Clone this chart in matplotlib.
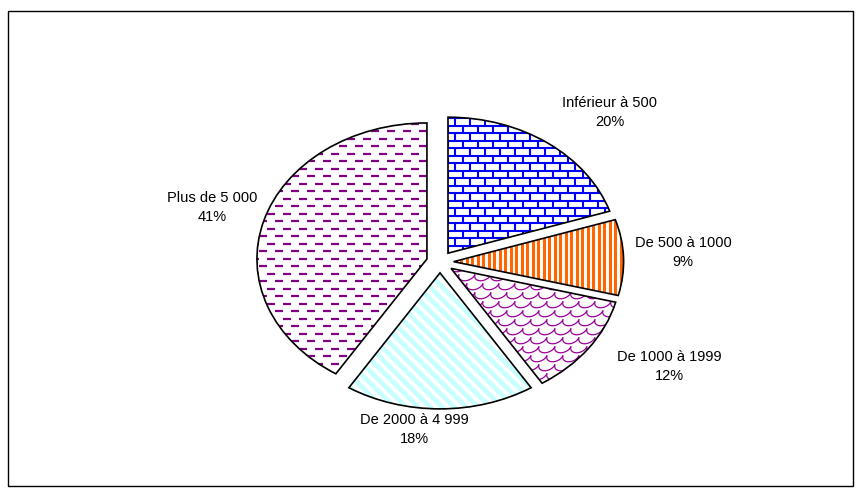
import numpy as np
import matplotlib
matplotlib.use("Agg")
import matplotlib.pyplot as plt
from matplotlib.patches import Wedge, Rectangle
from matplotlib.collections import LineCollection

plt.rcParams['font.family'] = ['Liberation Sans', 'DejaVu Sans']

# data
categories = ['Inférieur à 500', 'De 500 à 1000', 'De 1000 à 1999', 'De 2000 à 4 999', 'Plus de 5 000']
values = [20, 9, 12, 18, 41]

# label anchors (data units, relative to pie centre)
label_pos = [(1.0, 1.10), (1.43, 0.07), (1.35, -0.77), (-0.15, -1.23), (-1.34, 0.40)]

W, H = 861, 497
cx, cy = 440, 262          # pie centre in pixels (from top)
sx, sy = 170.0, 136.0      # pixels per data unit

fig = plt.figure(figsize=(W / 100, H / 100), dpi=100)
ax = fig.add_axes([0, 0, 1, 1])
ax.axis('off')

wedges, _ = ax.pie(values, startangle=90, counterclock=False, explode=[0.08] * 5,
                   wedgeprops=dict(facecolor='white', edgecolor='none'))
ax.set_xlim(-cx / sx, (W - cx) / sx)
ax.set_ylim(-(H - cy) / sy, cy / sy)
ax.set_aspect('auto')


def px(xp, yp):
    # pixel offsets -> data units
    return np.asarray(xp) / sx, np.asarray(yp) / sy


span = 240  # pixel half-extent of pattern area


def bricks():
    segs = []
    rows = np.arange(-span, span, 7.5)
    for i, y in enumerate(rows):
        segs.append([(-span, y), (span, y)])
        off = 0 if i % 2 == 0 else 7.5
        for x in np.arange(-span + off, span, 15):
            segs.append([(x, y), (x, y + 7.5)])
    return segs


def vstripes(step):
    return [[(x, -span), (x, span)] for x in np.arange(-span, span, step)]


def diag(step):
    return [[(x - span, span), (x + span, -span)] for x in np.arange(-2 * span, 2 * span, step)]


def dashes():
    segs = []
    for i, y in enumerate(np.arange(-span, span, 7.5)):
        off = 0 if i % 2 == 0 else 8
        for x in np.arange(-span + off, span, 16):
            segs.append([(x, y), (x + 8, y)])
    return segs


def scales():
    segs = []
    t = np.linspace(np.pi, 2 * np.pi, 14)
    r = 8
    for i, y in enumerate(np.arange(-span, span, 9)):
        off = 0 if i % 2 == 0 else r
        for x in np.arange(-span + off, span, 2 * r):
            segs.append(np.column_stack([x + r * np.cos(t) + 0.3 * (r * np.sin(t)), y + 0.8 * r * np.sin(t)]))
    return segs


patterns = [
    (bricks(), '#0000FF', 1.5),
    (vstripes(5.5), '#FF6600', 2.2),
    (scales(), '#990099', 0.9),
    (diag(12), '#C8FFFF', 3.4),
    (dashes(), '#800080', 1.6),
]

for w, (segs, col, lw) in zip(wedges, patterns):
    ox, oy = w.center
    data_segs = []
    for s in segs:
        s = np.asarray(s, dtype=float)
        xd, yd = px(s[:, 0], s[:, 1])
        data_segs.append(np.column_stack([xd + ox, yd + oy]))
    lc = LineCollection(data_segs, colors=col, linewidths=lw, zorder=1.5)
    ax.add_collection(lc)
    lc.set_clip_path(w)
    ax.add_patch(Wedge(w.center, w.r, w.theta1, w.theta2, fill=False,
                       edgecolor='black', linewidth=1.2, zorder=3))

total = sum(values)
for (lx, ly), name, v in zip(label_pos, categories, values):
    ax.text(lx, ly, f"{name}\n{round(v / total * 100)}%", ha='center', va='center',
            fontsize=10.5, linespacing=1.5)

fig.patches.append(Rectangle((8 / W, (H - 486) / H), (853 - 8) / W, (486 - 11) / H,
                             transform=fig.transFigure, fill=False, edgecolor='black', linewidth=1))

fig.savefig('out.png', dpi=100)
